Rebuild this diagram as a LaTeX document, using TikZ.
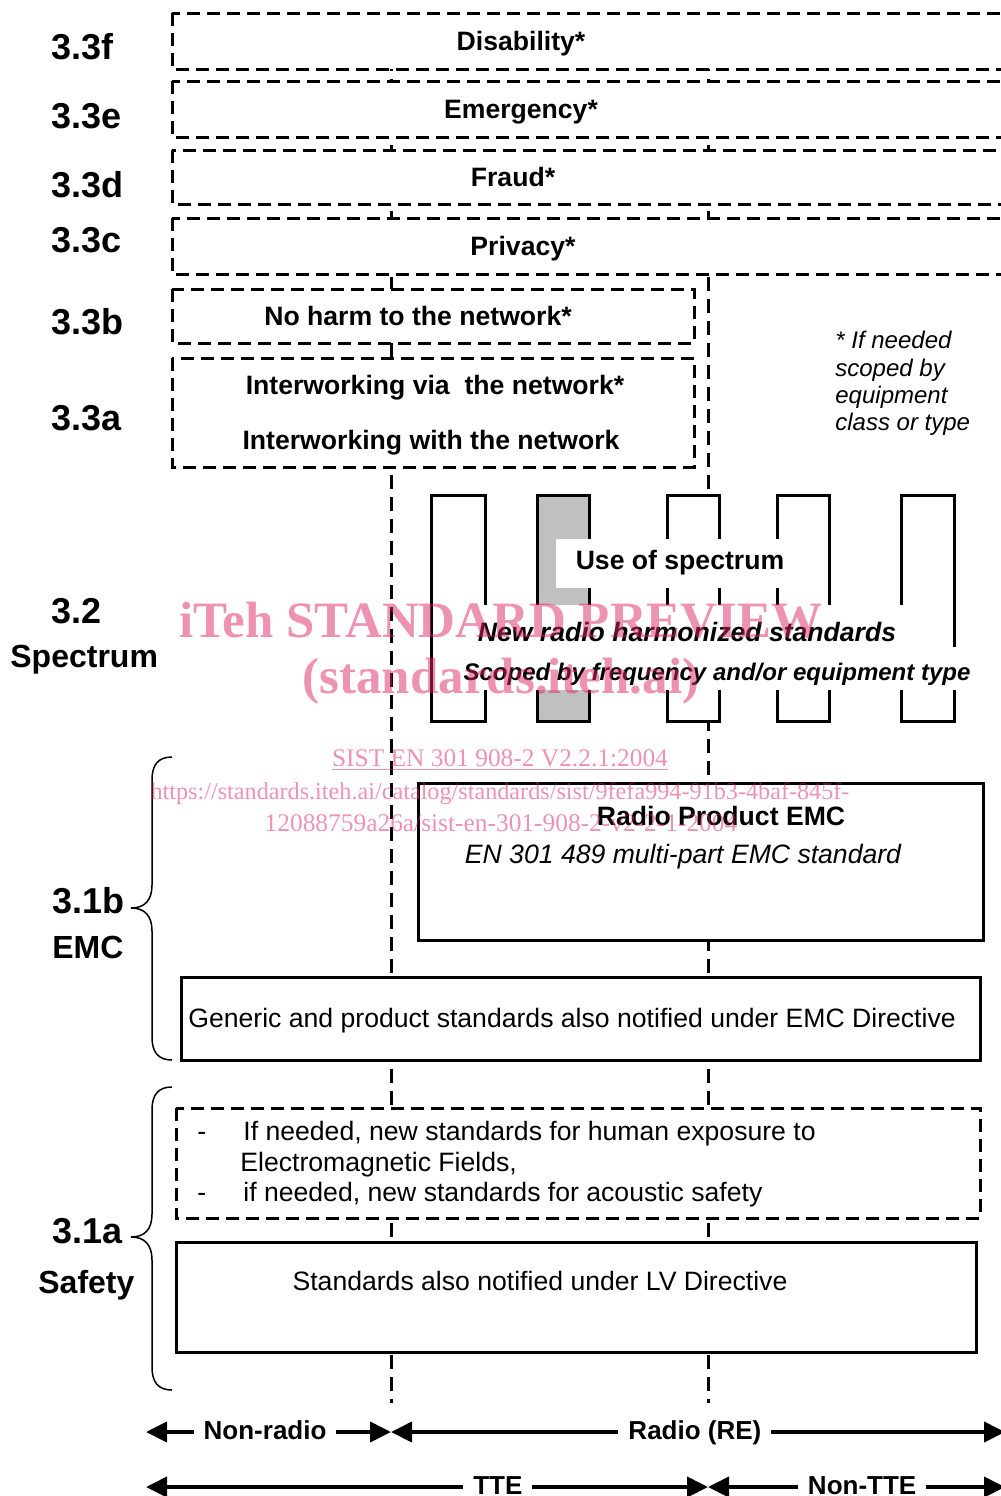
\documentclass[tikz,border=0pt]{standalone}
\usepackage{fontspec}
\setmainfont{Liberation Sans}
\newfontfamily\wmfont{Liberation Serif}
\usepackage{tikz}
\usetikzlibrary{arrows.meta, positioning}
\definecolor{wmpink}{RGB}{220,40,100}
\definecolor{bargray}{RGB}{192,192,192}

\begin{document}
\begin{tikzpicture}[
  x=0.5pt, y=-0.5pt,
  txt/.style={inner sep=0pt, font=\fontsize{13.3}{16}\selectfont},
  btxt/.style={inner sep=0pt, font=\fontsize{13.3}{16}\selectfont\bfseries},
  itxt/.style={inner sep=0pt, font=\fontsize{13.3}{16}\selectfont\itshape},
  bitxt/.style={inner sep=0pt, font=\fontsize{13.3}{16}\selectfont\bfseries\itshape},
  num/.style={inner sep=0pt, anchor=base west, font=\fontsize{18}{20}\selectfont\bfseries},
  word/.style={inner sep=0pt, anchor=base west, font=\fontsize{16}{18}\selectfont\bfseries},
  dbox/.style={draw, fill=white, line width=1.5pt, dash pattern=on 6.5pt off 3.5pt},
  sbox/.style={draw, fill=white, line width=1.5pt},
  divider/.style={line width=1.5pt, dash pattern=on 7pt off 4pt},
  bandbar/.style={draw, fill=white, line width=1.5pt},
  curly/.style={line width=0.75pt},
  rangearrow/.style={{Triangle[length=10.5pt,width=10pt]}-{Triangle[length=10.5pt,width=10pt]}, line width=2pt},
  rangelbl/.style={fill=white, inner ysep=0pt, inner xsep=5pt, font=\fontsize{13}{15}\selectfont\bfseries, text height=1.7ex, text depth=0.3ex},
  wm/.style={inner sep=0pt, anchor=base, text=wmpink, text opacity=0.5, font=\wmfont\fontsize{25.5}{28}\selectfont\bfseries},
  wmsmall/.style={inner sep=0pt, anchor=base, text=wmpink, text opacity=0.5, font=\wmfont\fontsize{12.7}{15}\selectfont}
]
\useasboundingbox (0,0) rectangle (1001,1496);
\clip (0,0) rectangle (1001,1496);

% Dividers between equipment groups
\draw[divider] (391,13) -- (391,1403);
\draw[divider] (708,13) -- (708,1403);

% Essential requirements 3.3
\draw[dbox] (172,13) rectangle (1020,69);
\node[btxt, anchor=base] (dis) at (521,50) {Disability*};
\draw[dbox] (172,81) rectangle (1020,137);
\node[btxt, anchor=base] (emg) at (521,118) {Emergency*};
\draw[dbox] (172,150) rectangle (1020,204);
\node[btxt, anchor=base] (fra) at (513,186) {Fraud*};
\draw[dbox] (172,218) rectangle (1020,274);
\node[btxt, anchor=base] (pri) at (523,255) {Privacy*};
\draw[dbox] (172,289) rectangle (694,343);
\node[btxt, anchor=base] (harm) at (418,325) {No harm to the network*};
\draw[dbox] (172,358) rectangle (694,467);
\node[btxt, anchor=base] (iwvia) at (435,394) {Interworking via\ \ the network*};
\node[btxt, anchor=base] (iwwith) at (431,449) {Interworking with the network};

\node[inner sep=0pt, anchor=north west, align=left, font=\fontsize{12}{13.65}\selectfont\itshape] (note) at (835,331) {* If needed\\scoped by\\equipment\\class or type};

% Spectrum bands
\foreach \xl/\xr in {431/485, 667/719, 777/829, 901/954}
  \draw[bandbar] (\xl,495) rectangle (\xr,721);
\draw[bandbar, fill=bargray] (537,495) rectangle (589,721);
\node[btxt, fill=white, minimum width=124.5pt, minimum height=24.5pt] (usespec) at (680,563) {Use of spectrum};
\fill[white] (455,605) rectangle (931,647);
\fill[white] (460,647) rectangle (975,690);
\node[bitxt, anchor=base] (newrad) at (687,641) {New radio harmonized standards};
\node[bitxt, anchor=base, font=\fontsize{12}{14}\selectfont\bfseries\itshape] (scoped) at (717,680) {Scoped by frequency and/or equipment type};

% EMC
\draw[sbox] (418,783) rectangle (983,940);
\node[btxt, anchor=base] (rpemc) at (721,825) {Radio Product EMC};
\node[itxt, anchor=base] (en489) at (683,863) {EN 301 489 multi-part EMC standard};
\draw[sbox] (181,977) rectangle (980,1060);
\node[txt, anchor=base west] (generic) at (188,1027) {Generic and product standards also notified under EMC Directive};

% Safety
\draw[dbox] (176,1108) rectangle (980,1218);
\node[txt, anchor=base west] (sf1) at (197,1140) {\makebox[23pt][l]{-}If needed, new standards for human exposure to};
\node[txt, anchor=base west] (sf2) at (240,1171) {Electromagnetic Fields,};
\node[txt, anchor=base west] (sf3) at (197,1201) {\makebox[23pt][l]{-}if needed, new standards for acoustic safety};
\draw[sbox] (176,1242) rectangle (976,1352);
\node[txt, anchor=base] (lv) at (540,1290) {Standards also notified under LV Directive};

% Braces
\draw[curly] (172,757) .. controls (158,757) and (152,765) .. (152,780) -- (152,885)
  .. controls (152,900) and (145,908) .. (131,908) .. controls (145,908) and (152,916) .. (152,931)
  -- (152,1037) .. controls (152,1052) and (158,1060) .. (172,1060);
\draw[curly] (172,1087) .. controls (158,1087) and (152,1095) .. (152,1110) -- (152,1214)
  .. controls (152,1229) and (145,1237) .. (131,1237) .. controls (145,1237) and (152,1245) .. (152,1260)
  -- (152,1367) .. controls (152,1382) and (158,1390) .. (172,1390);

% Side labels
\node[num] (l3f) at (51,59) {3.3f};
\node[num] (l3e) at (51,128) {3.3e};
\node[num] (l3d) at (51,197) {3.3d};
\node[num] (l3c) at (51,252) {3.3c};
\node[num] (l3b) at (51,334) {3.3b};
\node[num] (l3a) at (51,430) {3.3a};
\node[num] (l32) at (51,623) {3.2};
\node[word] (lspec) at (10,667) {Spectrum};
\node[num] (l31b) at (52,913) {3.1b};
\node[word] (lemc) at (52,958) {EMC};
\node[num] (l31a) at (52,1243) {3.1a};
\node[word] (lsafe) at (38,1293) {Safety};

% Scope arrows
\coordinate (r1a) at (146,1432);
\coordinate (r1b) at (391,1432);
\coordinate (r1c) at (1005,1432);
\coordinate (r2a) at (146,1487);
\coordinate (r2b) at (708,1487);
\coordinate (r2c) at (1005,1487);
\draw[rangearrow] (r1a) -- node[rangelbl, pos=0.486] (nonradio) {Non-radio} (r1b);
\draw[rangearrow] (r1b) -- node[rangelbl, pos=0.495] (radio) {Radio (RE)} (r1c);
\draw[rangearrow] (r2a) -- node[rangelbl, pos=0.626] (tte) {TTE} (r2b);
\draw[rangearrow] (r2b) -- node[rangelbl, pos=0.519] (nontte) {Non-TTE} (r2c);

% Watermark
\node[wm] (wm1) at (501,637) {iTeh STANDARD PREVIEW};
\node[wm] (wm2) at (501,693) {(standards.iteh.ai)};
\node[wmsmall] (wm3) at (500,766) {\underline{SIST EN 301 908-2 V2.2.1:2004}};
\node[wmsmall, font=\wmfont\fontsize{12.1}{15}\selectfont] (wm4) at (500,799) {https://standards.iteh.ai/catalog/standards/sist/9fefa994-91b3-4baf-845f-};
\node[wmsmall] (wm5) at (501,831) {12088759a26a/sist-en-301-908-2-v2-2-1-2004};

\end{tikzpicture}
\end{document}
